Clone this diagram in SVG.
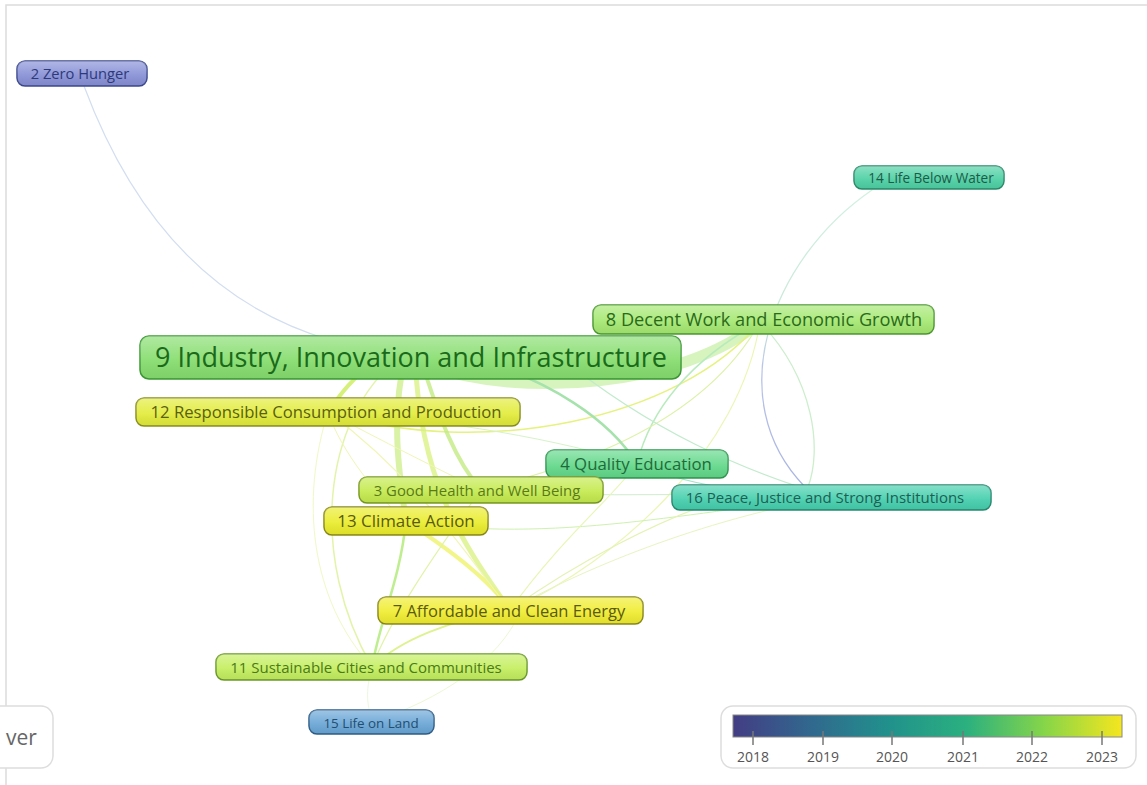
<svg xmlns="http://www.w3.org/2000/svg" width="1147" height="785" viewBox="0 0 1147 785">
<defs>
<linearGradient id="gloss" x1="0" y1="0" x2="0" y2="1">
<stop offset="0" stop-color="#fff" stop-opacity="0.35"/>
<stop offset="0.55" stop-color="#fff" stop-opacity="0.08"/>
<stop offset="1" stop-color="#000" stop-opacity="0.06"/>
</linearGradient>
<linearGradient id="viridis" x1="0" y1="0" x2="1" y2="0">
<stop offset="0" stop-color="#433d84"/>
<stop offset="0.2" stop-color="#31688e"/>
<stop offset="0.4" stop-color="#21918c"/>
<stop offset="0.6" stop-color="#2bb07f"/>
<stop offset="0.8" stop-color="#86d549"/>
<stop offset="1" stop-color="#f5e61e"/>
</linearGradient>
<linearGradient id="g1416" gradientUnits="userSpaceOnUse" x1="0" y1="190" x2="0" y2="487">
<stop offset="0" stop-color="#d2f0e2"/>
<stop offset="0.45" stop-color="#c8e8d8"/>
<stop offset="0.6" stop-color="#b8c4e8"/>
<stop offset="1" stop-color="#a8b4e2"/>
</linearGradient>
<style>
text{font-family:"Open Sans","Noto Sans","DejaVu Sans",sans-serif}
.node rect.b{stroke-width:1.5}
.node text{text-anchor:middle}
#edges path{fill:none;stroke-linecap:round}
.lg text{font-size:14px;fill:#555;text-anchor:middle}
.tick{stroke:#777;stroke-width:1.5}
</style>
</defs>
<rect width="1147" height="785" fill="#fff"/>
<rect x="6" y="5" width="1150" height="800" fill="none" stroke="#dcdcdc" stroke-width="1.5"/>

<g id="edges">
<path d="M84,86 Q160,290 330,340" stroke="#d2def0" stroke-width="1.2"/>
<path d="M872,190 C770,260 720,400 805,487" stroke="url(#g1416)" stroke-width="1.3"/>
<path d="M760,322 C815,380 822,450 808,487" stroke="#cceecc" stroke-width="1.3"/>
<path d="M430,366 C520,398 680,388 760,322" stroke="#c6f0a4" stroke-width="11" opacity="0.7"/>
<path d="M760,322 C680,420 480,460 330,412" stroke="#e6f27e" stroke-width="1.5"/>
<path d="M760,322 C690,360 650,410 637,464" stroke="#b8ebbc" stroke-width="1.5"/>
<path d="M760,322 C740,450 620,560 510,610" stroke="#ecf6b4" stroke-width="1.2"/>
<path d="M760,322 C700,430 560,470 481,490" stroke="#ddf2a8" stroke-width="1.2"/>
<path d="M470,357 C550,380 610,420 637,464" stroke="#a6e2ac" stroke-width="2.5"/>
<path d="M405,357 C390,420 400,480 406,521" stroke="#ccee88" stroke-width="6" opacity="0.75"/>
<path d="M420,357 C440,420 455,460 481,490" stroke="#bfea7c" stroke-width="4" opacity="0.75"/>
<path d="M415,357 C420,480 460,540 510,610" stroke="#d8f07c" stroke-width="5" opacity="0.75"/>
<path d="M406,521 C450,550 490,580 510,610" stroke="#eff26a" stroke-width="4" opacity="0.8"/>
<path d="M380,357 C350,380 340,395 328,412" stroke="#d6f07c" stroke-width="4"/>
<path d="M400,357 C320,420 310,560 372,667" stroke="#e2f4aa" stroke-width="1.5"/>
<path d="M328,412 C300,500 310,600 372,667" stroke="#f0f8c4" stroke-width="1"/>
<path d="M328,412 C340,450 380,500 406,521" stroke="#f0f6b4" stroke-width="1"/>
<path d="M328,412 C380,440 440,470 481,490" stroke="#f0f6b4" stroke-width="1"/>
<path d="M328,412 C420,480 470,560 510,610" stroke="#f0f6b4" stroke-width="1.2"/>
<path d="M328,412 C450,420 560,440 637,464" stroke="#d8f2c8" stroke-width="1"/>
<path d="M406,521 C400,580 380,620 372,667" stroke="#bfee90" stroke-width="2.5"/>
<path d="M510,610 C450,620 400,640 372,667" stroke="#def292" stroke-width="2"/>
<path d="M481,490 C430,560 390,620 372,667" stroke="#e0f4a8" stroke-width="1.2"/>
<path d="M560,357 C650,430 740,470 831,497" stroke="#c2ebcc" stroke-width="1.2"/>
<path d="M637,464 C700,490 770,495 831,497" stroke="#a2e4cc" stroke-width="1.2"/>
<path d="M481,490 C600,500 720,490 831,497" stroke="#d0eecc" stroke-width="1"/>
<path d="M406,521 C550,545 700,510 831,497" stroke="#cef2b0" stroke-width="1"/>
<path d="M510,610 C580,560 660,520 720,500" stroke="#e4f2b2" stroke-width="1.2"/>
<path d="M831,497 C700,520 580,570 510,610" stroke="#e8f4c0" stroke-width="1"/>
<path d="M510,610 C560,540 610,500 637,464" stroke="#e8f6b4" stroke-width="1.2"/>
<path d="M372,722 C440,700 500,660 520,612" stroke="#ecf8d2" stroke-width="1"/>
<path d="M372,722 C366,700 366,690 372,667" stroke="#ecf8e0" stroke-width="1"/>
</g>

<g id="n2" class="node"><rect class="b" x="17" y="61" width="130" height="25" rx="8" fill="#8790d6" stroke="#3d4a8f"/><rect x="17" y="61" width="130" height="25" rx="8" fill="url(#gloss)"/><text x="80" y="78.5" font-size="14.7" fill="#2d3a7a">2 Zero Hunger</text></g>
<g id="n14" class="node"><rect class="b" x="854" y="166" width="150" height="23" rx="8" fill="#4dd0a4" stroke="#2a8a6a"/><rect x="854" y="166" width="150" height="23" rx="8" fill="url(#gloss)"/><text x="931" y="182.5" font-size="13.6" fill="#1f5a48">14 Life Below Water</text></g>
<g id="n8" class="node"><rect class="b" x="593" y="305" width="341" height="29" rx="8" fill="#a6e872" stroke="#4c9a30"/><rect x="593" y="305" width="341" height="29" rx="8" fill="url(#gloss)"/><text x="764" y="326" font-size="18.2" fill="#2a6a1a">8 Decent Work and Economic Growth</text></g>
<g id="n9" class="node"><rect class="b" x="140" y="336" width="541" height="43" rx="9" fill="#86dd6e" stroke="#3c9a35"/><rect x="140" y="336" width="541" height="43" rx="9" fill="url(#gloss)"/><text x="411" y="367" font-size="27" fill="#1a6a1a">9 Industry, Innovation and Infrastructure</text></g>
<g id="n12" class="node"><rect class="b" x="136" y="398" width="384" height="28" rx="8" fill="#e2ec3a" stroke="#8a9020"/><rect x="136" y="398" width="384" height="28" rx="8" fill="url(#gloss)"/><text x="326" y="418" font-size="16.7" fill="#5a6010">12 Responsible Consumption and Production</text></g>
<g id="n4" class="node"><rect class="b" x="546" y="450" width="182" height="28" rx="8" fill="#62d88a" stroke="#2f9850"/><rect x="546" y="450" width="182" height="28" rx="8" fill="url(#gloss)"/><text x="636" y="470" font-size="16.8" fill="#1f6a3a">4 Quality Education</text></g>
<g id="n3" class="node"><rect class="b" x="359" y="477" width="244" height="26" rx="8" fill="#c4ea4e" stroke="#7a9a20"/><rect x="359" y="477" width="244" height="26" rx="8" fill="url(#gloss)"/><text x="477" y="495.5" font-size="14.9" fill="#5a7a1a">3 Good Health and Well Being</text></g>
<g id="n16" class="node"><rect class="b" x="672" y="485" width="319" height="25" rx="8" fill="#45cfad" stroke="#258a70"/><rect x="672" y="485" width="319" height="25" rx="8" fill="url(#gloss)"/><text x="825" y="502.5" font-size="15" fill="#1f5e55">16 Peace, Justice and Strong Institutions</text></g>
<g id="n13" class="node"><rect class="b" x="324" y="507" width="164" height="28" rx="8" fill="#eaec2c" stroke="#8a8a18"/><rect x="324" y="507" width="164" height="28" rx="8" fill="url(#gloss)"/><text x="406" y="527" font-size="16.9" fill="#5a5a10">13 Climate Action</text></g>
<g id="n7" class="node"><rect class="b" x="378" y="597" width="265" height="27" rx="8" fill="#f0ec30" stroke="#8a8a18"/><rect x="378" y="597" width="265" height="27" rx="8" fill="url(#gloss)"/><text x="509" y="616.5" font-size="16.5" fill="#5a5a10">7 Affordable and Clean Energy</text></g>
<g id="n11" class="node"><rect class="b" x="216" y="654" width="311" height="26" rx="8" fill="#c4ee5e" stroke="#6a9a28"/><rect x="216" y="654" width="311" height="26" rx="8" fill="url(#gloss)"/><text x="366" y="672.5" font-size="15" fill="#4a7a1a">11 Sustainable Cities and Communities</text></g>
<g id="n15" class="node"><rect class="b" x="309" y="710" width="125" height="24" rx="8" fill="#6aa6d6" stroke="#2f5e88"/><rect x="309" y="710" width="125" height="24" rx="8" fill="url(#gloss)"/><text x="371" y="727.5" font-size="13.4" fill="#234e70">15 Life on Land</text></g>

<g id="watermark"><rect x="-20" y="706" width="73" height="62" rx="12" fill="#fff" stroke="#ddd" stroke-width="1.5"/><text x="6" y="745" font-size="21" fill="#666">ver</text></g>

<g id="legend" class="lg">
<rect x="721" y="706" width="415" height="62" rx="12" fill="#fff" stroke="#ddd" stroke-width="1.5"/>
<rect x="733" y="715" width="389" height="22" fill="url(#viridis)" stroke="#888" stroke-width="1"/>
<line class="tick" x1="753" y1="731" x2="753" y2="745"/>
<line class="tick" x1="823" y1="731" x2="823" y2="745"/>
<line class="tick" x1="892" y1="731" x2="892" y2="745"/>
<line class="tick" x1="963" y1="731" x2="963" y2="745"/>
<line class="tick" x1="1032" y1="731" x2="1032" y2="745"/>
<line class="tick" x1="1102" y1="731" x2="1102" y2="745"/>
<text x="753" y="762">2018</text>
<text x="823" y="762">2019</text>
<text x="892" y="762">2020</text>
<text x="963" y="762">2021</text>
<text x="1032" y="762">2022</text>
<text x="1102" y="762">2023</text>
</g>
</svg>
